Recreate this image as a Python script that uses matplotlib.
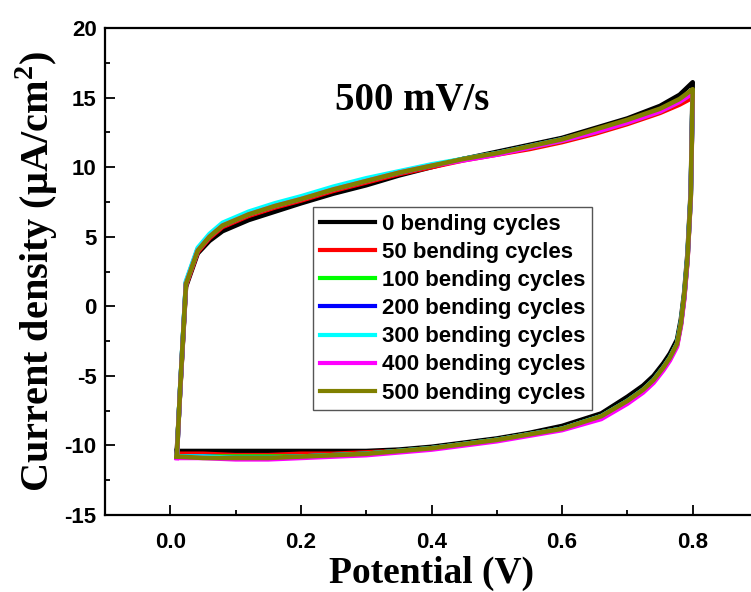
import matplotlib
matplotlib.use("Agg")
import matplotlib.pyplot as plt
from matplotlib.ticker import MultipleLocator

plt.rcParams['mathtext.fontset'] = 'custom'
plt.rcParams['mathtext.rm'] = 'Liberation Serif:bold'
plt.rcParams['mathtext.bf'] = 'Liberation Serif:bold'
plt.rcParams['axes.unicode_minus'] = False

# potential along one cycle (anodic sweep, then cathodic sweep back)
potential = [0.01, 0.015, 0.024, 0.042, 0.06, 0.08, 0.12, 0.16, 0.2, 0.25, 0.3, 0.35,
             0.4, 0.45, 0.5, 0.55, 0.6, 0.65, 0.7, 0.75, 0.78, 0.8,
             0.797, 0.792, 0.787, 0.782, 0.776, 0.765, 0.755, 0.74, 0.724, 0.7, 0.66,
             0.6, 0.55, 0.5, 0.45, 0.4, 0.35, 0.3, 0.25, 0.2, 0.15, 0.1, 0.05, 0.01]

# current density (uA/cm2) for each bending count
cur_0 = [-10.4, -6.2, 1.4, 3.8, 4.7, 5.4, 6.2, 6.8, 7.4, 8.1, 8.7, 9.4,
         10.0, 10.6, 11.1, 11.6, 12.1, 12.8, 13.5, 14.4, 15.2, 16.1,
         8.3, 3.8, 1.0, -0.9, -2.4, -3.4, -4.1, -5.0, -5.7, -6.5, -7.7,
         -8.6, -9.1, -9.5, -9.8, -10.1, -10.3, -10.4, -10.4, -10.4, -10.4, -10.4, -10.4, -10.4]
cur_50 = [-10.6, -6.1, 1.5, 3.9, 4.9, 5.7, 6.5, 7.1, 7.6, 8.3, 8.9, 9.5,
          10.0, 10.5, 10.9, 11.3, 11.8, 12.4, 13.1, 13.9, 14.5, 15.0,
          7.8, 3.3, 0.6, -1.3, -2.8, -3.8, -4.5, -5.4, -6.1, -6.9, -8.0,
          -8.8, -9.2, -9.6, -9.9, -10.2, -10.4, -10.5, -10.6, -10.6, -10.7, -10.7, -10.6, -10.6]
cur_100 = [-10.8, -6.0, 1.7, 4.1, 5.1, 5.9, 6.7, 7.3, 7.8, 8.5, 9.1, 9.6,
           10.1, 10.6, 11.0, 11.4, 11.9, 12.5, 13.2, 14.0, 14.7, 15.3,
           7.9, 3.4, 0.7, -1.2, -2.7, -3.7, -4.4, -5.3, -6.0, -6.8, -7.9,
           -8.8, -9.2, -9.6, -9.9, -10.2, -10.4, -10.6, -10.7, -10.8, -10.8, -10.8, -10.8, -10.8]
cur_200 = [-10.8, -6.0, 1.7, 4.1, 5.1, 5.9, 6.7, 7.3, 7.8, 8.5, 9.1, 9.6,
           10.1, 10.6, 11.0, 11.5, 12.0, 12.6, 13.3, 14.1, 14.8, 15.4,
           8.0, 3.5, 0.7, -1.2, -2.7, -3.7, -4.4, -5.3, -6.0, -6.8, -7.9,
           -8.8, -9.2, -9.6, -9.9, -10.2, -10.4, -10.6, -10.7, -10.8, -10.9, -10.9, -10.8, -10.8]
cur_300 = [-10.8, -6.0, 1.8, 4.2, 5.2, 6.0, 6.8, 7.4, 7.9, 8.6, 9.2, 9.7,
           10.2, 10.6, 11.0, 11.5, 12.0, 12.6, 13.3, 14.1, 14.8, 15.4,
           8.0, 3.5, 0.7, -1.2, -2.7, -3.7, -4.4, -5.3, -6.0, -6.8, -7.9,
           -8.8, -9.2, -9.6, -9.9, -10.2, -10.4, -10.6, -10.7, -10.8, -10.9, -10.9, -10.8, -10.8]
cur_400 = [-10.9, -6.1, 1.6, 4.0, 5.0, 5.8, 6.6, 7.2, 7.7, 8.4, 9.0, 9.6,
           10.1, 10.5, 10.9, 11.4, 11.9, 12.5, 13.2, 14.0, 14.7, 15.3,
           7.9, 3.3, 0.5, -1.4, -2.9, -3.9, -4.6, -5.5, -6.2, -7.0, -8.1,
           -8.9, -9.3, -9.7, -10.0, -10.3, -10.5, -10.7, -10.8, -10.9, -11.0, -11.0, -10.9, -10.9]
cur_500 = [-10.8, -6.0, 1.6, 4.0, 5.0, 5.8, 6.6, 7.2, 7.7, 8.4, 9.0, 9.6,
           10.1, 10.6, 11.0, 11.5, 12.0, 12.7, 13.4, 14.2, 14.9, 15.6,
           8.0, 3.5, 0.8, -1.2, -2.7, -3.7, -4.4, -5.3, -6.0, -6.8, -7.9,
           -8.8, -9.2, -9.6, -9.9, -10.2, -10.4, -10.6, -10.7, -10.8, -10.9, -10.9, -10.9, -10.8]

labels = ['0 bending cycles', '50 bending cycles', '100 bending cycles', '200 bending cycles',
          '300 bending cycles', '400 bending cycles', '500 bending cycles']
colors = ['black', 'red', '#00ff00', 'blue', 'cyan', 'magenta', '#808000']
series = [cur_0, cur_50, cur_100, cur_200, cur_300, cur_400, cur_500]

fig = plt.figure(figsize=(7.51, 5.92), dpi=100)
# the right spine sits just outside the picture, as in the original
ax = fig.add_axes([105 / 751, 77 / 592, 653 / 751, 487 / 592])

for cur, col, lab in zip(series, colors, labels):
    ax.plot(potential, cur, color=col, lw=3.3, label=lab, solid_joinstyle='round')

ax.set_xlim(-0.1, 0.9)
ax.set_ylim(-15, 20)
ax.xaxis.set_major_locator(MultipleLocator(0.2))
ax.xaxis.set_minor_locator(MultipleLocator(0.1))
ax.yaxis.set_major_locator(MultipleLocator(5))
ax.yaxis.set_minor_locator(MultipleLocator(2.5))
ax.tick_params(which='both', direction='in', width=1.3)
ax.tick_params(which='major', length=7)
ax.tick_params(which='minor', length=3.5)
ax.tick_params(axis='x', which='major', pad=12)
ax.tick_params(axis='y', which='major', pad=6)
for sp in ax.spines.values():
    sp.set_linewidth(1.6)

ax.xaxis.set_major_formatter(plt.FuncFormatter(lambda v, p: f"{v:.1f}"))
for t in ax.get_xticklabels() + ax.get_yticklabels():
    t.set_fontfamily('Liberation Sans')
    t.set_fontweight('bold')
    t.set_fontsize(16)

ax.set_xlabel('Potential (V)', fontfamily='Liberation Serif', fontweight='bold', fontsize=27, labelpad=2)
ax.set_ylabel(r'Current density ($\mathregular{\mu}$A/cm$^{\mathbf{2}}$)', fontfamily='Liberation Serif',
              fontweight='bold', fontsize=29, labelpad=3)

ax.text(0.371, 14.8, '500 mV/s', fontfamily='Liberation Serif', fontweight='bold', fontsize=28,
        ha='center', va='center')

leg = ax.legend(loc='upper left', bbox_to_anchor=(0.3185, 0.632), borderaxespad=0,
                prop={'family': 'Liberation Sans', 'weight': 'bold', 'size': 16},
                handlelength=2.5, handletextpad=0.3, labelspacing=0.32, borderpad=0.3,
                fancybox=False, framealpha=1)
leg.get_frame().set_edgecolor('#555555')
leg.get_frame().set_linewidth(1.0)
for h in leg.get_lines():
    h.set_linewidth(3)

fig.savefig('out.png', dpi=100)
